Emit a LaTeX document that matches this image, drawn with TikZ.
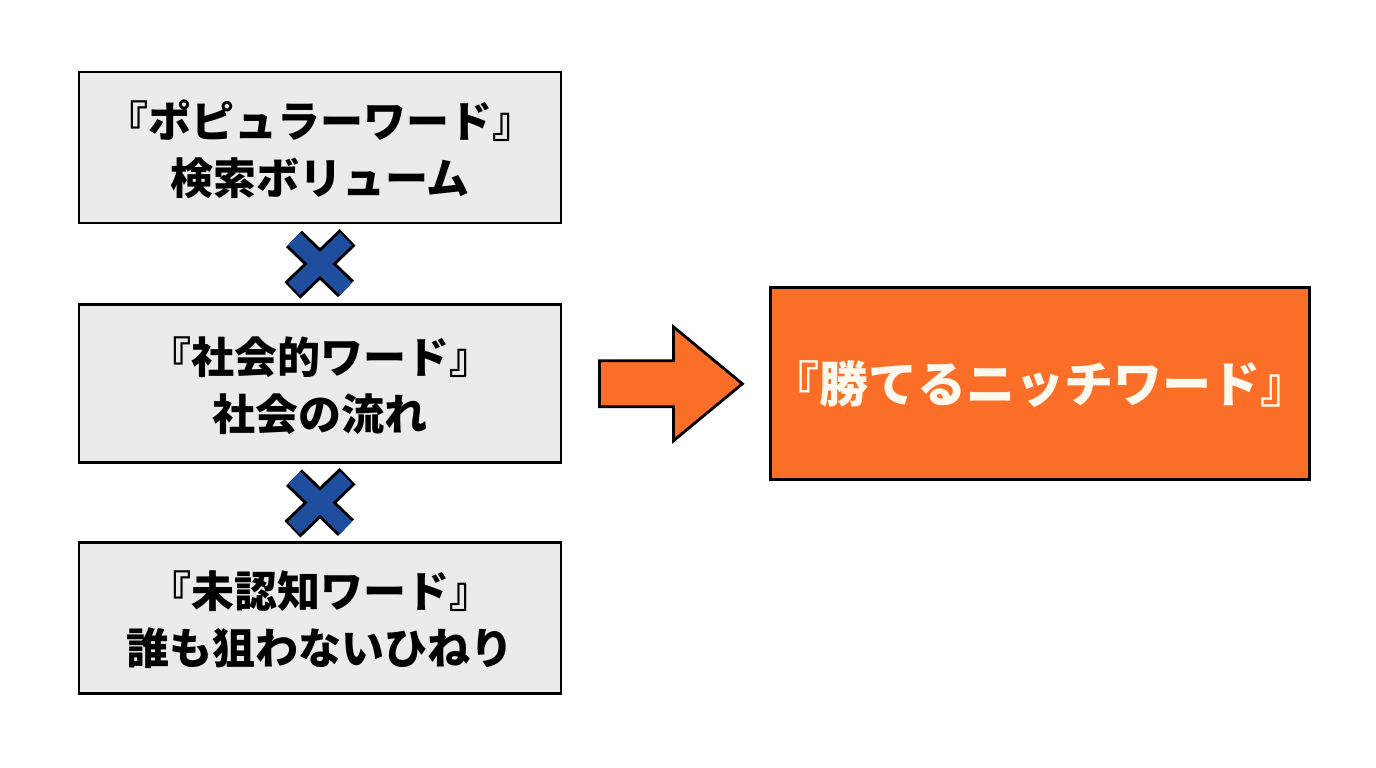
\documentclass[tikz,border=0pt]{standalone}
\usepackage{fontspec}
\setmainfont{Noto Sans CJK JP}
\usetikzlibrary{calc,positioning}
\definecolor{NicheOrange}{HTML}{FA6E28}
\definecolor{NicheBlue}{HTML}{1F4E9E}
\definecolor{NicheGray}{HTML}{EBEBEB}
\definecolor{NicheCream}{HTML}{FFF8EC}

\begin{document}
\begin{tikzpicture}[x=1pt,y=-1pt,
    wordbox/.style={draw=black,line width=2.8pt,fill=NicheGray,
      minimum width=482pt,inner sep=0pt,align=center,text depth=-4pt,
      font=\fontsize{43}{57}\selectfont\bfseries},
    goalbox/.style={draw=black,line width=2.8pt,fill=NicheOrange,
      minimum width=538pt,minimum height=192pt,inner sep=0pt,text=NicheCream,
      font=\fontsize{49}{57}\selectfont\bfseries},
    timesbar/.style={line width=#1,line cap=butt},
    bigarrow/.style={draw=black,line width=2.8pt,fill=NicheOrange,line join=miter}]
  \useasboundingbox (0,0) rectangle (1376,768);

  % the three ingredients
  \node[wordbox,minimum height=151pt] (popular) at (320,147.5)
    {『ポピュラーワード』\\検索ボリューム};
  \node[wordbox,minimum height=158pt,below=79pt of popular] (social)
    {『社会的ワード』\\社会の流れ};
  \node[wordbox,minimum height=151pt,below=77pt of social] (unknown)
    {『未認知ワード』\\誰も狙わないひねり};

  % result
  \node[goalbox,right=207pt of social] (niche) {『勝てるニッチワード』};

  % multiplication marks
  \coordinate (times1) at ($(popular.south)!0.5!(social.north)$);
  \coordinate (times2) at ($(social.south)!0.5!(unknown.north)$);
  \foreach \c in {times1,times2} {
    \draw[timesbar=23pt,black,shorten <=-2.2pt,shorten >=-2.2pt]
      ($(\c)+(-26,-25)$) -- ($(\c)+(26,25)$)
      ($(\c)+(-26,25)$) -- ($(\c)+(26,-25)$);
    \draw[timesbar=17pt,NicheBlue]
      ($(\c)+(-26,-25)$) -- ($(\c)+(26,25)$)
      ($(\c)+(-26,25)$) -- ($(\c)+(26,-25)$);
  }

  % big arrow towards the result
  \draw[bigarrow] ($(social.east)+(37,-23)$) -- ++(74,0) -- ++(0,-34)
    -- ++(69,57) -- ++(-69,57) -- ++(0,-34) -- ++(-74,0) -- cycle;
\end{tikzpicture}
\end{document}
